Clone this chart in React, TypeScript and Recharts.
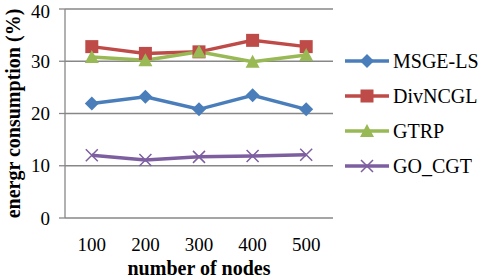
import { LineChart, Line, XAxis, YAxis, CartesianGrid, Legend } from "recharts";

const categories = ["100", "200", "300", "400", "500"];
const msgeLs = [21.9, 23.2, 20.8, 23.5, 20.8];
const divNcgl = [32.8, 31.5, 31.8, 34, 32.8];
const gtrp = [30.8, 30.2, 31.8, 29.9, 31.2];
const goCgt = [12, 11.1, 11.7, 11.85, 12.1];
const yTicks = [0, 10, 20, 30, 40];

const data = categories.map((nodes, i) => ({
  nodes,
  msge: msgeLs[i],
  div: divNcgl[i],
  gtrp: gtrp[i],
  go: goCgt[i],
}));

const FONT = "Liberation Serif";
const GRID = "#878787";

const series = [
  { key: "msge", name: "MSGE-LS", color: "#4a7ebb", shape: "diamond" },
  { key: "div", name: "DivNCGL", color: "#be4b48", shape: "square" },
  { key: "gtrp", name: "GTRP", color: "#98b954", shape: "triangle" },
  { key: "go", name: "GO_CGT", color: "#7d5fa0", shape: "cross" },
];

function Marker({ cx, cy, shape, color }: any) {
  if (cx == null || cy == null) return null;
  if (shape === "diamond")
    return (
      <path
        d={`M${cx},${cy - 7}L${cx + 7},${cy}L${cx},${cy + 7}L${cx - 7},${cy}Z`}
        fill={color}
      />
    );
  if (shape === "square")
    return <rect x={cx - 6.5} y={cy - 6.5} width={13} height={13} fill={color} />;
  if (shape === "triangle")
    return (
      <path
        d={`M${cx},${cy - 7}L${cx + 7},${cy + 6}L${cx - 7},${cy + 6}Z`}
        fill={color}
      />
    );
  return (
    <path
      d={`M${cx - 6},${cy - 6}L${cx + 6},${cy + 6}M${cx - 6},${cy + 6}L${cx + 6},${cy - 6}`}
      stroke={color}
      strokeWidth={1.5}
      fill="none"
    />
  );
}

function LegendContent() {
  return (
    <div style={{ fontFamily: FONT, fontSize: 20, color: "#000" }}>
      {series.map((s) => (
        <div
          key={s.key}
          style={{ display: "flex", alignItems: "center", height: 35 }}
        >
          <svg width={46} height={20} style={{ marginRight: 2 }}>
            <line x1={0} y1={10} x2={44} y2={10} stroke={s.color} strokeWidth={3.5} />
            <Marker cx={22} cy={10} shape={s.shape} color={s.color} />
          </svg>
          <span style={{ lineHeight: "20px" }}>{s.name}</span>
        </div>
      ))}
    </div>
  );
}

export default function App() {
  return (
    <div
      style={{
        position: "absolute",
        left: 0,
        top: 0,
        background: "#fff",
        fontFamily: FONT,
      }}
    >
      <LineChart
        width={480}
        height={278}
        data={data}
        margin={{ top: 9, right: 12, left: 0, bottom: 0 }}
        style={{ fontFamily: FONT }}
      >
        <CartesianGrid vertical={false} stroke={GRID} strokeWidth={1.3} />
        <XAxis
          xAxisId="frame"
          type="number"
          domain={[0, 5]}
          ticks={[0, 1, 2, 3, 4, 5]}
          tickFormatter={() => ""}
          height={0}
          tickSize={6}
          stroke={GRID}
          axisLine={{ stroke: GRID, strokeWidth: 1.3 }}
          tickLine={{ stroke: GRID, strokeWidth: 1.3 }}
        />
        <XAxis
          xAxisId="cat"
          dataKey="nodes"
          scale="band"
          height={60}
          axisLine={false}
          tickLine={false}
          tickSize={0}
          tickMargin={20}
          tick={{ fill: "#000", fontSize: 19, fontFamily: FONT }}
          label={{
            value: "number of nodes",
            position: "insideBottom",
            offset: 3,
            fill: "#000",
            fontSize: 20,
            fontWeight: "bold",
            fontFamily: FONT,
          }}
        />
        <YAxis
          width={65}
          domain={[0, 40]}
          ticks={yTicks}
          tickSize={6}
          tickMargin={9}
          axisLine={{ stroke: GRID, strokeWidth: 1.3 }}
          tickLine={{ stroke: GRID, strokeWidth: 1.3 }}
          tick={{ fill: "#000", fontSize: 19, fontFamily: FONT }}
          label={{
            content: ({ viewBox }: any) => {
              const cy = viewBox.y + viewBox.height / 2;
              return (
                <text
                  x={20}
                  y={cy}
                  transform={`rotate(-90 20 ${cy})`}
                  textAnchor="middle"
                  fontFamily={FONT}
                  fontSize={20}
                  fontWeight="bold"
                  fill="#000"
                >
                  energr consumption (%)
                </text>
              );
            },
          }}
        />
        <Legend
          layout="vertical"
          verticalAlign="top"
          align="right"
          content={<LegendContent />}
          wrapperStyle={{ left: 345, top: 43, width: 135 }}
        />
        {series.map((s) => (
          <Line
            key={s.key}
            xAxisId="cat"
            dataKey={s.key}
            name={s.name}
            stroke={s.color}
            strokeWidth={3.5}
            isAnimationActive={false}
            dot={(p: any) => (
              <Marker key={`${s.key}-${p.index}`} cx={p.cx} cy={p.cy} shape={s.shape} color={s.color} />
            )}
            activeDot={false}
          />
        ))}
      </LineChart>
    </div>
  );
}
